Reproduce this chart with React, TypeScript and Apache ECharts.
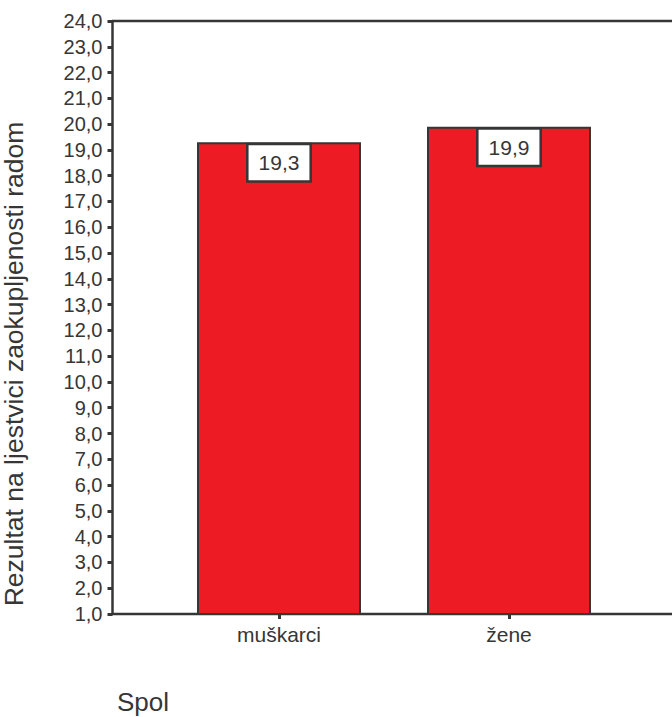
import React, { useEffect, useRef } from "react";
import * as echarts from "echarts";

const categories = ["muškarci", "žene"];
const values = [19.3, 19.9];
const yMin = 1;
const yMax = 24;
const yStep = 1;
const yTitle = "Rezultat na ljestvici zaokupljenosti radom";
const xTitle = "Spol";

const fmt = (v: number) => v.toFixed(1).replace(".", ",");

export default function App() {
  const ref = useRef<HTMLDivElement>(null);
  useEffect(() => {
    if (!ref.current) return;
    const chart = echarts.init(ref.current, undefined, { renderer: "svg" });
    const font = "Liberation Sans, Arial, sans-serif";
    const dark = "#363636";
    chart.setOption({
      animation: false,
      backgroundColor: "#fff",
      textStyle: { fontFamily: font },
      title: {
        text: xTitle,
        left: 112,
        top: 684,
        textStyle: { fontFamily: font, fontSize: 26, fontWeight: "normal", color: dark },
      },
      grid: { left: 164, right: 48, top: 21, bottom: 103 },
      xAxis: {
        type: "category",
        data: categories,
        axisLine: { show: false },
        axisTick: { show: true, alignWithLabel: true, length: 5, lineStyle: { color: dark, width: 3 } },
        axisLabel: { fontSize: 21, color: dark, margin: 10, fontFamily: font },
      },
      yAxis: {
        type: "value",
        min: yMin,
        max: yMax,
        interval: yStep,
        offset: 51.5,
        splitLine: { show: false },
        axisLine: { show: true, lineStyle: { color: dark, width: 2.5 } },
        axisTick: { show: true, length: 5, lineStyle: { color: dark, width: 3 } },
        axisLabel: {
          fontSize: 20,
          color: dark,
          margin: 10,
          fontFamily: font,
          showMinLabel: true,
          showMaxLabel: true,
          hideOverlap: false,
          formatter: (v: number) => fmt(v),
        },
      },
      graphic: [
        { type: "line", shape: { x1: 112.5, y1: 614, x2: 672, y2: 614 }, style: { stroke: dark, lineWidth: 2.5 } },
        { type: "line", shape: { x1: 112.5, y1: 21, x2: 672, y2: 21 }, style: { stroke: dark, lineWidth: 2.5 } },
        {
          type: "text",
          x: 14,
          y: 364,
          rotation: Math.PI / 2,
          style: {
            text: yTitle,
            fontSize: 26.5,
            fontFamily: font,
            fill: dark,
            align: "center",
            verticalAlign: "middle",
          },
        },
      ],
      series: [
        {
          type: "bar",
          data: values,
          barWidth: 164,
          itemStyle: { color: "#ed1c24", borderColor: dark, borderWidth: 2 },
          label: {
            show: true,
            position: "insideTop",
            distance: 3,
            formatter: (p: any) => fmt(p.value),
            backgroundColor: "#fff",
            borderColor: dark,
            borderWidth: 2.5,
            padding: [7, 10],
            lineHeight: 21,
            fontSize: 21,
            color: dark,
            fontFamily: font,
          },
        },
      ],
    });
    return () => chart.dispose();
  }, []);
  return <div ref={ref} style={{ position: "fixed", left: 0, top: 0, width: 672, height: 717 }} />;
}
